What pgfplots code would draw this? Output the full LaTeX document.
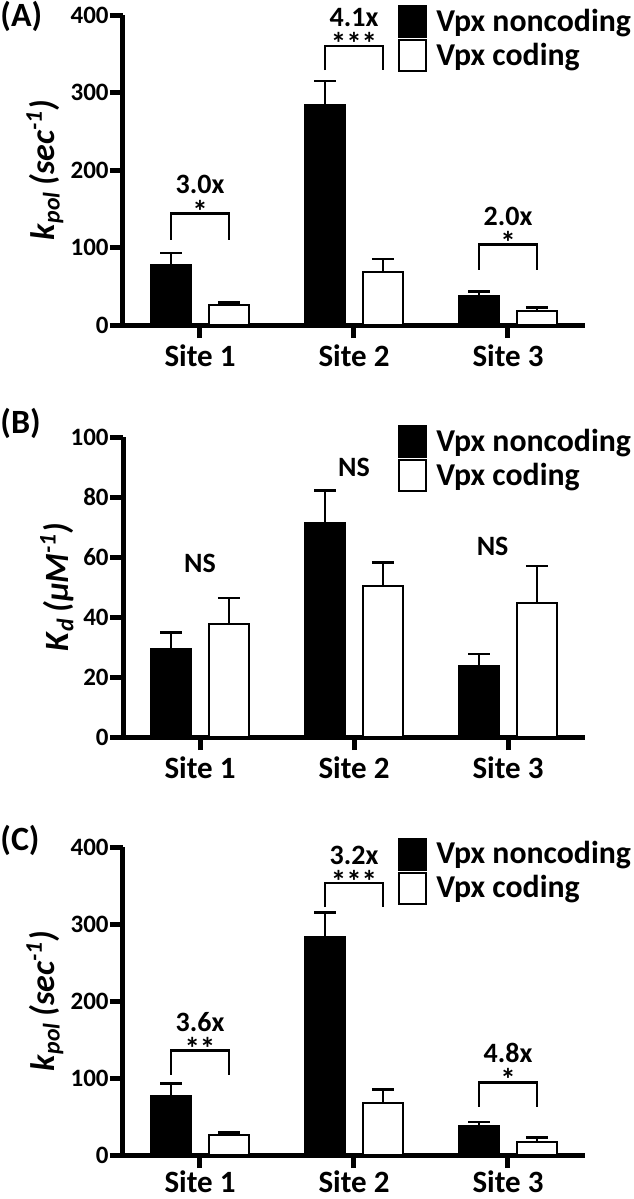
\documentclass[border=0pt]{standalone}
\usepackage{pgfplots}
\pgfplotsset{compat=1.18}
\usepackage{pgfplotstable}
\usepackage{fontspec}
\setmainfont{Carlito}

\pgfplotstableread{
x  y    e
1  78   15
2  284  31
3  38   5
}\Ablack
\pgfplotstableread{
x  y    e
1  26   3
2  69   16
3  18   4.5
}\Awhite
\pgfplotstableread{
x  y     e
1  29.4  5.5
2  71.3  10.9
3  23.6  4.1
}\Bblack
\pgfplotstableread{
x  y     e
1  37.6  8.7
2  50.4  7.7
3  44.7  12.3
}\Bwhite
\pgfplotstableread{
x  y    e
1  77   16
2  283  32
3  38   5
}\Cblack
\pgfplotstableread{
x  y    e
1  26.5 2.5
2  68   17
3  17   5.5
}\Cwhite

\pgfplotsset{
  myaxis/.style={
    scale only axis, width=231pt,
    xmin=0.5, xmax=3.5, ymin=0,
    axis lines=left,
    axis line style={line width=2.5pt, -, line cap=butt},
    tick style={line width=2.5pt, black},
    major tick length=6.5pt, tick align=outside,
    xtick={1,2,3}, xticklabels={Site 1,Site 2,Site 3},
    xticklabel style={font=\bfseries\fontsize{15.5}{17}\selectfont},
    yticklabel style={font=\bfseries\fontsize{12.5}{14}\selectfont, inner xsep=0.5pt},
    ylabel style={font=\bfseries\fontsize{17}{19}\selectfont, anchor=center},
    anchor=south west, clip=false,
    legend cell align=left,
    legend style={draw=none, fill=none, anchor=north west,
      font=\bfseries\fontsize{15.9}{17}\selectfont, row sep=0.5pt, inner sep=0pt,
      nodes={inner sep=1pt}},
  },
  blk/.style={ybar, bar width=0.259, bar shift=-0.188, fill=black, draw=black, line width=1pt,
    legend image code/.code={\draw[fill=black, draw=black, line width=1pt] (0pt,-7.75pt) rectangle (13.5pt,7.75pt);}},
  wht/.style={ybar, bar width=0.259, bar shift=0.188, fill=white, draw=black, line width=1pt,
    legend image code/.code={\draw[fill=white, draw=black, line width=1pt] (0pt,-7.75pt) rectangle (13.5pt,7.75pt);}},
  err/.style={forget plot, black, mark=none, draw=none,
    error bars/.cd, y dir=plus, y explicit,
    error bar style={draw=black, solid, line width=1.25pt},
    error mark options={rotate=90, draw=black, solid, line width=1.25pt, mark size=5.5pt}},
  brk/.style={black, line width=1.25pt, forget plot, sharp plot, mark=none},
}
\tikzset{
  fold/.style={font=\bfseries\fontsize{14}{16}\selectfont, inner sep=0pt},
  star/.style={font=\bfseries\fontsize{15.5}{17}\selectfont, anchor=north, inner sep=0pt},
}

\begin{document}
\begin{tikzpicture}
% ---------------- (A)
\begin{axis}[myaxis, at={(61.5pt,-162.5pt)}, height=155pt, ymax=400,
  ytick={0,100,200,300,400}, yticklabels={0,100,200,300,400},
  ylabel={\textit{k}\textsubscript{\textit{pol}}\,\textit{(sec\textsuperscript{-1})}},
  ylabel style={at={(axis description cs:-0.169,0.5)}},
  legend style={at={(axis description cs:0.595,1.032)}}]
\addplot[blk] table[x=x, y=y] {\Ablack};
\addlegendentry{\hspace{3.5pt}Vpx noncoding}
\addplot[wht] table[x=x, y=y] {\Awhite};
\addlegendentry{\hspace{3.5pt}Vpx coding}
\addplot[err] table[x expr=\thisrow{x}-0.188, y=y, y error=e] {\Ablack};
\addplot[err] table[x expr=\thisrow{x}+0.188, y=y, y error=e] {\Awhite};
\addplot[brk] coordinates {(0.812,110) (0.812,144) (1.188,144) (1.188,110)};
\addplot[brk] coordinates {(1.812,329) (1.812,360) (2.188,360) (2.188,329)};
\addplot[brk] coordinates {(2.812,71) (2.812,104) (3.188,104) (3.188,71)};
\node[fold] at (axis cs:1,181) {3.0x};
\node[star] at (axis cs:1,162) {*};
\node[fold] at (axis cs:2,397) {4.1x};
\node[star] at (axis cs:2,378) {***};
\node[fold] at (axis cs:3,140) {2.0x};
\node[star] at (axis cs:3,121) {*};
\end{axis}
% ---------------- (B)
\begin{axis}[myaxis, at={(61.5pt,-368.5pt)}, height=150pt, ymax=100,
  ytick={0,20,40,60,80,100}, yticklabels={0,20,40,60,80,100},
  ylabel={\textit{K}\textsubscript{\textit{d}}\,\textit{(µM\textsuperscript{-1})}},
  ylabel style={at={(axis description cs:-0.143,0.5)}},
  legend style={at={(axis description cs:0.595,1.04)}}]
\addplot[blk] table[x=x, y=y] {\Bblack};
\addlegendentry{\hspace{3.5pt}Vpx noncoding}
\addplot[wht] table[x=x, y=y] {\Bwhite};
\addlegendentry{\hspace{3.5pt}Vpx coding}
\addplot[err] table[x expr=\thisrow{x}-0.188, y=y, y error=e] {\Bblack};
\addplot[err] table[x expr=\thisrow{x}+0.188, y=y, y error=e] {\Bwhite};
\node[fold] at (axis cs:1,58) {NS};
\node[fold] at (axis cs:2,90) {NS};
\node[fold] at (axis cs:2.9,63.4) {NS};
\end{axis}
% ---------------- (C)
\begin{axis}[myaxis, at={(61.5pt,-577.5pt)}, height=154pt, ymax=400,
  ytick={0,100,200,300,400}, yticklabels={0,100,200,300,400},
  xticklabel style={inner ysep=0pt, yshift=-1pt},
  ylabel={\textit{k}\textsubscript{\textit{pol}}\,\textit{(sec\textsuperscript{-1})}},
  ylabel style={at={(axis description cs:-0.169,0.5)}},
  legend style={at={(axis description cs:0.595,1.032)}}]
\addplot[blk] table[x=x, y=y] {\Cblack};
\addlegendentry{\hspace{3.5pt}Vpx noncoding}
\addplot[wht] table[x=x, y=y] {\Cwhite};
\addlegendentry{\hspace{3.5pt}Vpx coding}
\addplot[err] table[x expr=\thisrow{x}-0.188, y=y, y error=e] {\Cblack};
\addplot[err] table[x expr=\thisrow{x}+0.188, y=y, y error=e] {\Cwhite};
\addplot[brk] coordinates {(0.812,104) (0.812,136) (1.188,136) (1.188,104)};
\addplot[brk] coordinates {(1.812,322) (1.812,353) (2.188,353) (2.188,322)};
\addplot[brk] coordinates {(2.812,63) (2.812,94) (3.188,94) (3.188,63)};
\node[fold] at (axis cs:1,173) {3.6x};
\node[star] at (axis cs:1,154) {**};
\node[fold] at (axis cs:2,389) {3.2x};
\node[star] at (axis cs:2,370) {***};
\node[fold] at (axis cs:3,132) {4.8x};
\node[star] at (axis cs:3,113) {*};
\end{axis}
% panel letters
\node[anchor=west, inner sep=0pt, font=\bfseries\fontsize{17}{19}\selectfont] at (0pt,-8pt) {(A)};
\node[anchor=west, inner sep=0pt, font=\bfseries\fontsize{17}{19}\selectfont] at (0pt,-211.5pt) {(B)};
\node[anchor=west, inner sep=0pt, font=\bfseries\fontsize{17}{19}\selectfont] at (0pt,-420pt) {(C)};
\pgfresetboundingbox
\path[use as bounding box] (0pt,0pt) rectangle (316.5pt,-599.5pt);
\end{tikzpicture}
\end{document}
